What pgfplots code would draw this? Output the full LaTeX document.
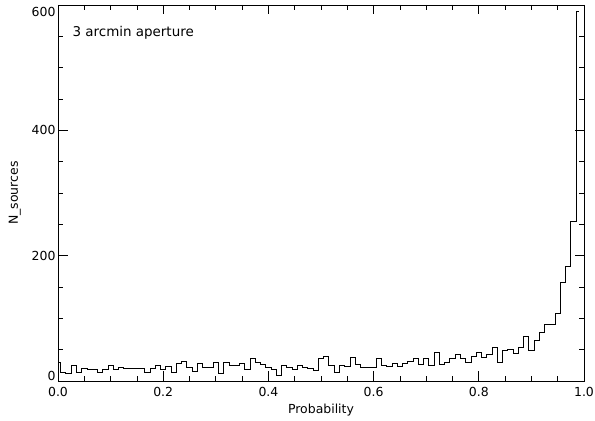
\documentclass[border=0pt]{standalone}
\usepackage{fontspec}
\setmainfont{DejaVu Sans}
\usepackage{pgfplots}
\pgfplotsset{compat=1.18}
\pgfplotstableread{
x y
0.00 30
0.01 13
0.02 12
0.03 25
0.04 13
0.05 20
0.06 19
0.07 19
0.08 14
0.09 19
0.10 25
0.11 19
0.12 21
0.13 20
0.14 20
0.15 20
0.16 20
0.17 14
0.18 20
0.19 25
0.20 19
0.21 23
0.22 14
0.23 28
0.24 32
0.25 21
0.26 16
0.27 28
0.28 22
0.29 21
0.30 29
0.31 12
0.32 30
0.33 25
0.34 25
0.35 28
0.36 18
0.37 36
0.38 29
0.39 27
0.40 22
0.41 18
0.42 9
0.43 25
0.44 22
0.45 19
0.46 25
0.47 22
0.48 20
0.49 17
0.50 36
0.51 39
0.52 25
0.53 14
0.54 25
0.55 24
0.56 37
0.57 26
0.58 21
0.59 21
0.60 22
0.61 36
0.62 25
0.63 23
0.64 28
0.65 23
0.66 28
0.67 31
0.68 36
0.69 26
0.70 36
0.71 25
0.72 46
0.73 26
0.74 30
0.75 36
0.76 42
0.77 36
0.78 29
0.79 40
0.80 45
0.81 38
0.82 43
0.83 53
0.84 30
0.85 49
0.86 51
0.87 44
0.88 53
0.89 71
0.90 49
0.91 65
0.92 77
0.93 90
0.94 91
0.95 108
0.96 158
0.97 183
0.98 254
0.99 589
}\histdata
\begin{document}
\begin{tikzpicture}
\path[use as bounding box] (-58bp,-40bp) rectangle (537bp,381bp);
\begin{axis}[
  at={(0,0)}, anchor=south west, scale only axis,
  width=526bp, height=376bp,
  xmin=0, xmax=1, ymin=0, ymax=600,
  xtick={0,0.2,0.4,0.6,0.8,1}, ytick={0,200,400,600},
  yticklabels={\raisebox{0.5bp}[0pt][0pt]{0},200,400,\raisebox{-11.5bp}[0pt][0pt]{600}},
  minor x tick num=3, minor y tick num=3,
  tick pos=both,
  tick align=inside, major tick length=9.5bp, minor tick length=5bp,
  axis line style={line width=0.8pt},
  every tick/.style={black, line width=0.8pt},
  tick label style={font=\fontsize{12.5}{14}\selectfont},
  /pgf/number format/assume math mode=true,
  x tick label style={yshift=-2.5bp, /pgf/number format/.cd, fixed, fixed zerofill, precision=1, /tikz/.cd},
  y tick label style={xshift=1bp},
  xlabel={Probability},
  ylabel={N\_sources},
  label style={font=\fontsize{12.5}{14}\selectfont},
  xlabel style={at={(axis description cs:0.5,-0.077)}, anchor=center},
  ylabel style={at={(axis description cs:-0.082,0.5)}, anchor=center},
]
\addplot[const plot mark mid, black, line width=0.8pt, no marks] table[x=x,y=y] {\histdata};
\node[anchor=west, font=\fontsize{13.5}{15}\selectfont] at (axis cs:0.021,555) {3 arcmin aperture};
\end{axis}
\end{tikzpicture}
\end{document}
